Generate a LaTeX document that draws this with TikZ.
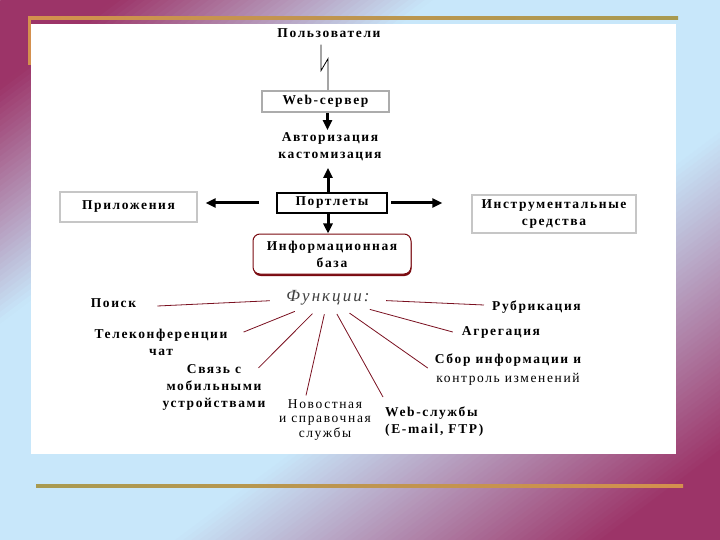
\documentclass[tikz,border=0pt]{standalone}
\usepackage{fontspec}
\setmainfont{Liberation Serif}
\newfontfamily\lblfont[LetterSpace=12]{Liberation Serif}
\usepackage{tikz}
\usetikzlibrary{arrows.meta,shapes.geometric,shadows}

\definecolor{slidepurple}{HTML}{9C3468}
\definecolor{slideblue}{HTML}{C8E7FA}
\definecolor{goldline}{HTML}{A89A50}
\definecolor{goldorange}{HTML}{D4904E}
\definecolor{linkred}{HTML}{7A1020}
\definecolor{basered}{HTML}{7A0A10}

\begin{document}
\begin{tikzpicture}[x=1pt, y=-1pt,
  lbl/.style={font=\lblfont\bfseries\fontsize{13.5}{17}\selectfont, align=center, inner sep=2pt},
  graybox/.style={lbl, draw=gray!45, line width=1.3pt, fill=white},
  webbox/.style={lbl, draw=gray!65, line width=2pt, minimum width=127pt, minimum height=21pt},
  portbox/.style={lbl, draw=black, line width=2pt, minimum width=110pt, minimum height=20pt},
  basebox/.style={lbl, draw=basered, line width=1pt, rounded corners=7pt, fill=white, minimum width=158pt, minimum height=40pt,
    drop shadow={shadow xshift=0.5pt, shadow yshift=-2pt, fill=basered, opacity=1}},
  funcnode/.style={ellipse, minimum width=116pt, minimum height=32pt, inner sep=0pt,
    font=\lblfont\itshape\fontsize{17}{19}\selectfont, text=black!75},
  arr/.style={-{Triangle[length=10pt,width=9pt]}, line width=3pt},
  link/.style={draw=linkred, line width=0.8pt}
]
\useasboundingbox (0,0) rectangle (720,540);
% slide background, thin stripes along the anti-diagonal
\begin{scope}
\clip (0,0) rectangle (720,540);
\foreach \i in {0,...,179}{
  \pgfmathsetmacro\ta{\i/180}
  \pgfmathsetmacro\tb{(\i+1.6)/180}
  \pgfmathsetmacro\pp{100*min(1,max(0,max((0.3-(\i+0.5)/180)/0.22,((\i+0.5)/180-0.62)/0.30)))}
  \fill[slidepurple!\pp!slideblue] ({1440*\ta+14},-10) -- ({1440*\tb+14},-10) -- ({1440*\tb-734},550) -- ({1440*\ta-734},550) -- cycle;
}
\end{scope}
\shade[left color=goldorange, right color=goldline] (28,16.5) rectangle (678,19.5);
\fill[goldorange] (28,16.5) rectangle (31,65);
\shade[left color=goldline, right color=goldorange] (36,484.5) rectangle (683,487.5);
\fill[white] (31,24) rectangle (676,454);

% upper part
\node[lbl] (users) at (329,33) {Пользователи};
\node[webbox] (web) at (325.5,101.5) {Web-сервер};
\node[lbl] (auth) at (330,146.5) {Авторизация\\кастомизация};
\node[portbox] (port) at (332,203) {Портлеты};
\node[basebox] (base) at (332,254) {Информационная\\база};
\node[graybox, minimum width=137pt, minimum height=30pt] (apps) at (128.5,207) {Приложения};
\node[graybox, minimum width=164pt, minimum height=38pt] (tools) at (554,214) {Инструментальные\\средства};

\draw[line width=0.8pt] ([xshift=-8pt, yshift=-5pt]users.south) -- ++(0,26) -- ++(7,-12) -- ([xshift=2.5pt]web.north);
\draw[arr] ([xshift=2pt]web.south) -- ([xshift=2pt]web.south |- auth.north);
\draw[arr, shorten >=5pt] ([xshift=-4pt]port.north) -- ([xshift=-4pt]port.north |- auth.south);
\draw[arr] ([xshift=-4pt]port.south) -- ([xshift=-4pt]port.south |- base.north);
\draw[arr, shorten <=17pt, shorten >=8pt] (port.west) -- (port.west -| apps.east);
\draw[arr, shorten <=3pt, shorten >=29pt] (port.east) -- (port.east -| tools.west);

% functions
\node[funcnode] (func) at (328,298) {Функции:};
\node[lbl] (search) at (113.5,303) {Поиск};
\node[lbl] (tele) at (161,342.5) {Телеконференции\\чат};
\node[lbl] (mobile) at (214,387) {Связь с\\мобильными\\устройствами};
\node[lbl, font=\lblfont\fontsize{13.5}{14.5}\selectfont] (news) at (325,420) {Новостная\\и справочная\\службы};
\node[lbl, align=left, anchor=west] (websvc) at (383,422) {Web-службы\\(E-mail, FTP)};
\node[lbl, font=\lblfont\bfseries\fontsize{13.5}{19}\selectfont] (collect) at (508,370) {Сбор информации и\\{\mdseries контроль изменений}};
\node[lbl] (aggr) at (501,332) {Агрегация};
\node[lbl] (rubr) at (536.5,307) {Рубрикация};

\draw[link] (func) -- ([xshift=19pt, yshift=-3pt]search.east);
\draw[link] (func) -- ([xshift=14pt, yshift=-5pt]tele.north east);
\draw[link] (func) -- ([xshift=-9pt, yshift=-6pt]mobile.north east);
\draw[link] (func) -- ([xshift=-19pt, yshift=2pt]news.north);
\draw[link] (func) -- ([yshift=8pt]websvc.north west);
\draw[link] (func) -- ([xshift=-5pt, yshift=2pt]collect.west);
\draw[link] (func) -- ([xshift=-7pt]aggr.west);
\draw[link] (func) -- ([xshift=-6pt, yshift=2pt]rubr.west);
\end{tikzpicture}
\end{document}
